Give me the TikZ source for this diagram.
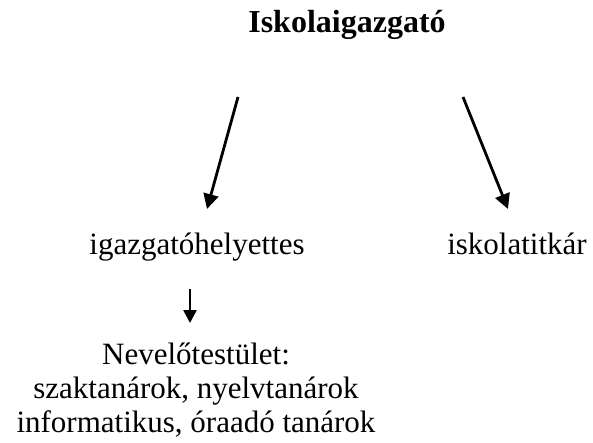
\documentclass[tikz,border=0pt]{standalone}
\usepackage{fontspec}
\setmainfont{Liberation Serif}
\usetikzlibrary{arrows.meta}
\begin{document}
\begin{tikzpicture}[x=1pt,y=-1pt,
  label text/.style={inner sep=0pt,anchor=base,font=\fontsize{31}{34}\selectfont},
  big arrow/.style={line width=2.8pt,-{Triangle[length=15pt,width=15pt]}},
  small arrow/.style={line width=2.4pt,-{Triangle[length=13pt,width=13pt]}}]
  \useasboundingbox (0,0) rectangle (593,442);
  % titles
  \node[label text,font=\fontsize{32}{34}\selectfont\bfseries] (dir) at (347,32) {Iskolaigazgató};
  \node[label text] (dep) at (197,254) {igazgatóhelyettes};
  \node[label text] (sec) at (517,254) {iskolatitkár};
  % the base of this three-line node is the baseline of its last line
  \node[label text,align=center] (staff) at (196,432)
    {Nevelőtestület:\\szaktanárok, nyelvtanárok\\informatikus, óraadó tanárok};
  % arrow ends
  \coordinate (d1) at (238,97);
  \coordinate (d1e) at (207,209);
  \coordinate (d2) at (463,97);
  \coordinate (d2e) at (508,209);
  \coordinate (s1) at (190,289);
  \coordinate (s1e) at (190,323);
  \draw[big arrow] (d1) -- (d1e);
  \draw[big arrow] (d2) -- (d2e);
  \draw[small arrow] (s1) -- (s1e);
\end{tikzpicture}
\end{document}
